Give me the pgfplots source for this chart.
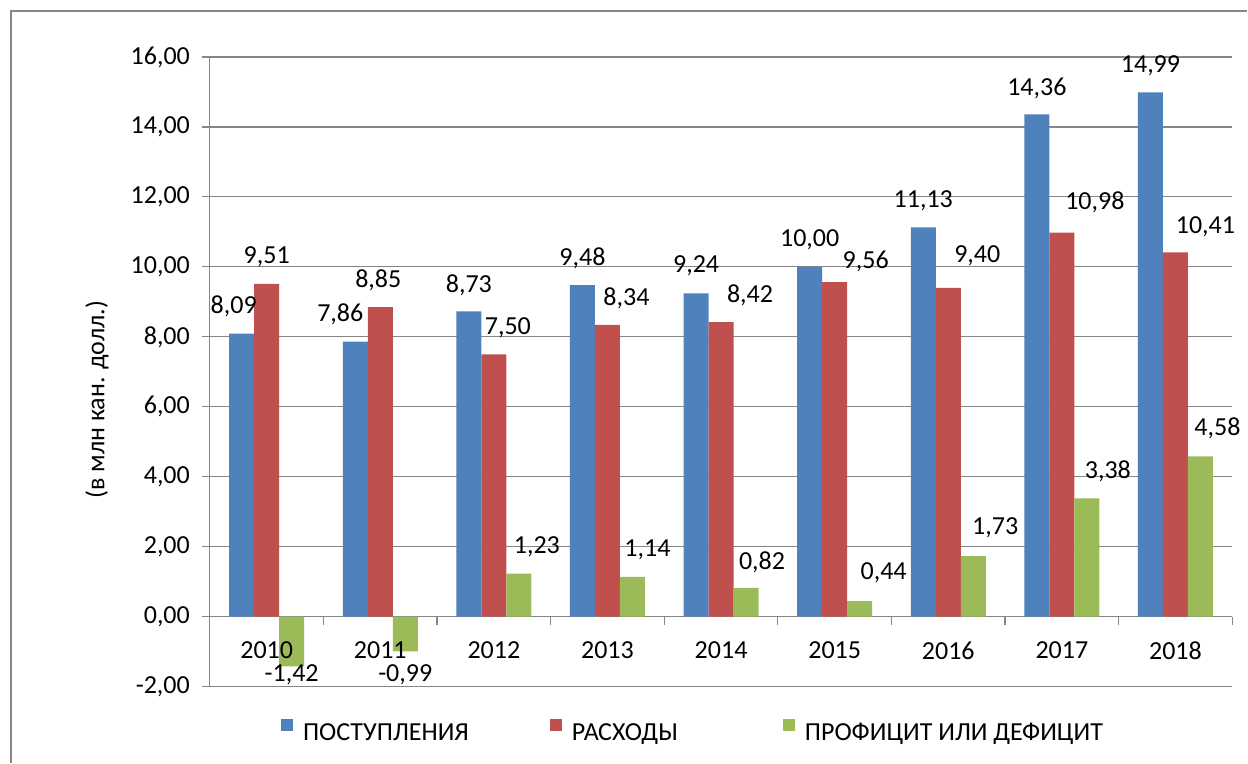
\documentclass[border=0pt]{standalone}
\usepackage{fontspec}
\setmainfont{Carlito}
\usepackage{pgfplots}
\usepackage{pgfplotstable}
\pgfplotsset{compat=1.18}
\definecolor{cblue}{HTML}{4F81BD}
\definecolor{cred}{HTML}{C0504D}
\definecolor{cgreen}{HTML}{9BBB59}
\definecolor{cgrid}{HTML}{868686}
\newcommand{\lblfont}{\fontsize{13pt}{15pt}\selectfont}

% x = category index (0 = 2010), y = value, dx/dy = label offset in pt
\pgfplotstableread{
x y dx dy
0 8.09 -4 13.5
1 7.86 -7.5 13.5
2 8.73 0 13
3 9.48 0 13.5
4 9.24 0 14
5 10.00 0 13.5
6 11.13 0 13.5
7 14.36 0 13
8 14.99 0 13.5
}\tblIn
\pgfplotstableread{
x y dx dy
0 9.51 0 13.5
1 8.85 -1 13.5
2 7.50 7 13.5
3 8.34 9.5 13.5
4 8.42 14.5 13.5
5 9.56 15.5 10.5
6 9.40 14.5 16
7 10.98 16.5 15
8 10.41 15 13
}\tblOut
\pgfplotstableread{
x y dx dy
0 -1.42 0 -4
1 -0.99 0 -11.5
2 1.23 9 13.5
3 1.14 7.5 13.5
4 0.82 8 13
5 0.44 12 14.5
6 1.73 11 14
7 3.38 10.5 13.5
8 4.58 8.5 14
}\tblBal

\pgfplotsset{/pgf/number format/.cd, fixed, fixed zerofill, precision=2, use comma, assume math mode=true}
\pgfplotsset{
  layers/labelstop/.define layer set={
    axis background,axis grid,axis ticks,axis lines,pre main,main,axis tick labels,axis descriptions,axis foreground
  }{
    grid style={/pgfplots/on layer=axis grid},
    tick style={/pgfplots/on layer=axis ticks},
    axis line style={/pgfplots/on layer=axis lines},
    label style={/pgfplots/on layer=axis descriptions},
    legend style={/pgfplots/on layer=axis descriptions},
    title style={/pgfplots/on layer=axis descriptions},
    ticklabel style={/pgfplots/on layer=axis tick labels},
    axis background@ style={/pgfplots/on layer=axis background},
  },
}

\begin{document}
\begin{tikzpicture}
\path (0,0) rectangle (624pt,381.5pt);
\draw[cgrid, line width=0.75pt] (5.5pt,0) -- (5.5pt,376pt) -- (624pt,376pt);
\begin{axis}[
  set layers=labelstop,
  at={(105pt,38pt)}, anchor=south west,
  scale only axis, width=511.5pt, height=315pt,
  xmin=-0.5, xmax=8.5, ymin=-2, ymax=16,
  ybar=0pt, bar width=12.5pt,
  axis y line*=left, axis x line*=middle,
  hide obscured x ticks=false,
  axis line style={cgrid, line width=0.6pt},
  ytick={-2,0,...,16},
  ymajorgrids, major grid style={cgrid, line width=0.6pt},
  xtick={-0.5,0.5,...,8.5},
  x tick label as interval,
  xticklabels={2010,2011,2012,2013,2014,2015,2016,2017,2018},
  tick align=outside, major tick length=4pt,
  tick style={cgrid, line width=0.6pt},
  tick label style={font=\lblfont, black},
  xticklabel style={font=\lblfont, anchor=center, yshift=-13pt},
  yticklabel style={font=\lblfont, anchor=east, xshift=-2.5pt},
  every axis y label/.style={at={(axis description cs:-0.1105,0.4556)}, rotate=90, anchor=center, font=\lblfont},
  ylabel={(в млн кан. долл.)},
  nodes near coords,
  visualization depends on={\thisrow{dx} \as \dx},
  visualization depends on={\thisrow{dy} \as \dy},
  every node near coord/.append style={font=\lblfont, black, anchor=center, xshift=\dx pt, yshift=\dy pt},
  legend columns=3,
  legend style={at={(axis description cs:0.4735,-0.0746)}, anchor=center, draw=none, fill=none, font=\lblfont, inner sep=0pt},
  /tikz/every even column/.append style={column sep=43pt},
  legend cell align=left,
]
\addplot[fill=cblue, draw=none, legend image code/.code={\fill[cblue] (0pt,1.2pt) rectangle (6pt,7.2pt); \path (9pt,0pt);}] table[x=x, y=y] {\tblIn};
\addlegendentry{ПОСТУПЛЕНИЯ\kern-4.5pt}
\addplot[fill=cred, draw=none, legend image code/.code={\fill[cred] (0pt,1.2pt) rectangle (6pt,7.2pt); \path (9pt,0pt);}] table[x=x, y=y] {\tblOut};
\addlegendentry{РАСХОДЫ\kern7.5pt}
\addplot[fill=cgreen, draw=none, legend image code/.code={\fill[cgreen] (0pt,1.2pt) rectangle (6pt,7.2pt); \path (9pt,0pt);}] table[x=x, y=y] {\tblBal};
\addlegendentry{ПРОФИЦИТ ИЛИ ДЕФИЦИТ}
\end{axis}
\end{tikzpicture}
\end{document}
